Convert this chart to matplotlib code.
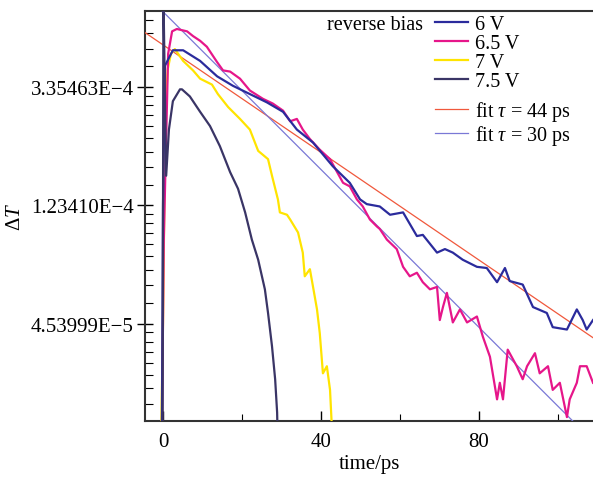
import numpy as np
import matplotlib
matplotlib.use("Agg")
import matplotlib.pyplot as plt
from matplotlib.lines import Line2D
from matplotlib.ticker import FixedLocator, FixedFormatter

plt.rcParams['font.family'] = ['Liberation Serif', 'DejaVu Serif']
plt.rcParams['mathtext.fontset'] = 'custom'
plt.rcParams['mathtext.rm'] = 'Liberation Serif'
plt.rcParams['mathtext.it'] = 'Liberation Serif:italic'

# ---- data (time in ps, natural log of ΔT) ----
t_6V = [-0.3, 0.0, 0.5, 2.5, 5.1, 9.4, 13.7, 17.7, 22.0, 26.3, 30.4, 33.9, 38.0, 43.0, 47.3, 49.9,
        51.6, 54.9, 57.5, 60.8, 64.3, 65.8, 69.4, 71.4, 73.4, 75.9, 79.5, 82.0, 84.6, 86.6, 87.8,
        91.1, 93.7, 97.2, 98.7, 102.3, 104.8, 106.3, 107.3, 108.9]
ln_6V = [-11.0, -9.0, -7.82, -7.69, -7.69, -7.78, -7.91, -7.99, -8.06, -8.13, -8.21, -8.36, -8.47,
         -8.67, -8.81, -8.95, -8.99, -9.01, -9.08, -9.06, -9.26, -9.25, -9.40, -9.37, -9.40, -9.46,
         -9.52, -9.53, -9.65, -9.53, -9.64, -9.67, -9.86, -9.91, -10.03, -10.05, -9.88, -9.97,
         -10.05, -9.97]

t_65V = [-0.3, 0.2, 1.3, 2.3, 3.5, 6.1, 7.6, 9.4, 11.1, 13.7, 15.2, 17.0, 19.5, 22.0, 25.3, 27.8,
         30.4, 32.2, 33.9, 35.4, 37.2, 39.7, 42.3, 44.1, 45.6, 47.3, 49.1, 50.6, 52.4, 54.2, 54.9,
         56.7, 59.2, 60.8, 62.5, 64.3, 65.8, 67.6, 69.4, 70.1, 70.9, 71.9, 73.4, 75.2, 77.0, 79.5,
         81.0, 82.8, 84.6, 85.3, 86.1, 87.3, 89.6, 91.1, 92.2, 94.2, 95.4, 97.5, 98.7, 100.5,
         102.3, 103.0, 104.8, 105.6, 107.3, 108.9]
ln_65V = [-11.0, -9.3, -7.72, -7.53, -7.51, -7.53, -7.57, -7.61, -7.66, -7.79, -7.86, -7.87, -7.93,
          -8.03, -8.10, -8.14, -8.20, -8.29, -8.27, -8.36, -8.44, -8.53, -8.61, -8.72, -8.81,
          -8.84, -8.95, -9.01, -9.12, -9.18, -9.20, -9.29, -9.37, -9.52, -9.60, -9.57, -9.65,
          -9.71, -9.69, -9.97, -9.86, -9.74, -9.99, -9.88, -9.99, -9.94, -10.11, -10.28, -10.64,
          -10.50, -10.64, -10.22, -10.36, -10.47, -10.36, -10.25, -10.42, -10.36, -10.56, -10.50,
          -10.79, -10.64, -10.50, -10.36, -10.36, -10.50]

t_7V = [-0.5, 0.0, 0.6, 1.2, 2.0, 3.0, 5.1, 7.6, 9.4, 12.4, 13.9, 16.5, 19.5, 22.0, 24.1, 26.6,
        27.6, 29.1, 29.6, 31.4, 32.2, 34.2, 35.4, 35.9, 37.2, 38.0, 39.0, 39.7, 40.5, 41.5, 42.3,
        42.8]
ln_7V = [-11.0, -10.0, -8.2, -7.85, -7.72, -7.68, -7.78, -7.86, -7.93, -7.98, -8.06, -8.17, -8.27,
         -8.36, -8.54, -8.61, -8.75, -8.95, -9.06, -9.08, -9.12, -9.23, -9.40, -9.60, -9.54,
         -9.69, -9.88, -10.08, -10.42, -10.36, -10.56, -10.9]

t_75V = [-0.1, 0.1, 0.8, 1.5, 2.5, 4.3, 4.8, 6.8, 9.4, 11.9, 14.4, 17.0, 19.0, 20.8, 22.5, 24.1,
         25.8, 26.6, 27.6, 28.4, 28.9, 29.0]
ln_75V = [-11.0, -7.2, -8.75, -8.36, -8.12, -8.02, -8.02, -8.08, -8.21, -8.33, -8.50, -8.72, -8.86,
          -9.06, -9.29, -9.46, -9.71, -9.91, -10.19, -10.47, -10.75, -10.9]

series_labels = ['6 V', '6.5 V', '7 V', '7.5 V']
fit_taus = [44, 30]
fit_ln_amp = [-7.644, -7.364]
fit_labels = [r'fit $\tau$ = 44 ps', r'fit $\tau$ = 30 ps']
y_major_ln = [-8, -9, -10]
x_ticks = [0, 40, 80]

colors = ['#2b2b9c', '#e6168a', '#ffe400', '#3a3566']
fit_colors = ['#f0583c', '#7a78d6']

fig = plt.figure(figsize=(5.93, 4.81), dpi=100)
ax = fig.add_axes([145/593, 1-422/481, 1-145/593, (422-12)/481])

ax.set_yscale('log', base=np.e)

t_fit = np.linspace(-6, 112, 200)
for tau, a, c in zip(fit_taus, fit_ln_amp, fit_colors):
    ax.plot(t_fit, np.exp(a) * np.exp(-t_fit / tau), color=c, lw=0.9, zorder=3)

data = [(t_6V, ln_6V), (t_65V, ln_65V), (t_7V, ln_7V), (t_75V, ln_75V)]
order = [2, 1, 0, 3]
for i in order:
    tt, ll = data[i]
    ax.plot(tt, np.exp(ll), color=colors[i], lw=1.6, zorder=4 + (i == 3))

ax.set_xlim(-4.56, 108.9)
ax.set_ylim(np.exp(-10.823), np.exp(-7.358))

# ticks
ymaj = [np.exp(v) for v in y_major_ln]
def fmt(v):
    m, e = f"{v:.5E}".split('E')
    return f"{m}E\u2212{abs(int(e))}"
ax.yaxis.set_major_locator(FixedLocator(ymaj))
ax.yaxis.set_major_formatter(FixedFormatter([fmt(v) for v in ymaj]))
minors = []
for k in range(-12, -6):
    lo, hi = np.exp(k), np.exp(k + 1)
    minors += list(np.linspace(lo, hi, 10)[1:-1])
ax.yaxis.set_minor_locator(FixedLocator(minors))
ax.yaxis.set_minor_formatter(FixedFormatter([''] * len(minors)))

ax.set_xticks(x_ticks)
ax.set_xticks([20, 60, 100], minor=True)
ax.tick_params(axis='y', which='major', direction='inout', length=12, width=1.0, labelsize=15, pad=2)
ax.tick_params(axis='y', which='minor', direction='in', length=6, width=0.8)
ax.tick_params(axis='x', which='major', direction='in', length=7, width=1.0, labelsize=15, pad=8)
ax.tick_params(axis='x', which='minor', direction='in', length=5, width=0.8)

for s in ['left', 'bottom', 'top']:
    ax.spines[s].set_color('#333333')
    ax.spines[s].set_linewidth(1.5)
ax.spines['right'].set_visible(False)

ax.set_xlabel('time/ps', fontsize=15, labelpad=2)
ax.set_ylabel(r'$\Delta T$', fontsize=15, labelpad=4)

handles = [Line2D([], [], color=c, lw=1.6) for c in colors]
fh = [Line2D([], [], color=c, lw=0.9) for c in fit_colors]
leg1 = ax.legend(handles, series_labels, loc='upper left', bbox_to_anchor=((435-145)/448, 1-(16-12)/410),
                 frameon=False, fontsize=14.5, handlelength=1.65, handletextpad=0.35,
                 labelspacing=0.0, borderpad=0, borderaxespad=0)
ax.add_artist(leg1)
ax.legend(fh, fit_labels, loc='upper left', bbox_to_anchor=((435-145)/448, 1-(100-12)/410),
          frameon=False, fontsize=14.5, handlelength=1.65, handletextpad=0.35,
          labelspacing=0.0, borderpad=0, borderaxespad=0)
fig.text(423/593, 1-25/481, 'reverse bias', ha='right', va='center', fontsize=14.5)

fig.savefig('out.png', dpi=100)
